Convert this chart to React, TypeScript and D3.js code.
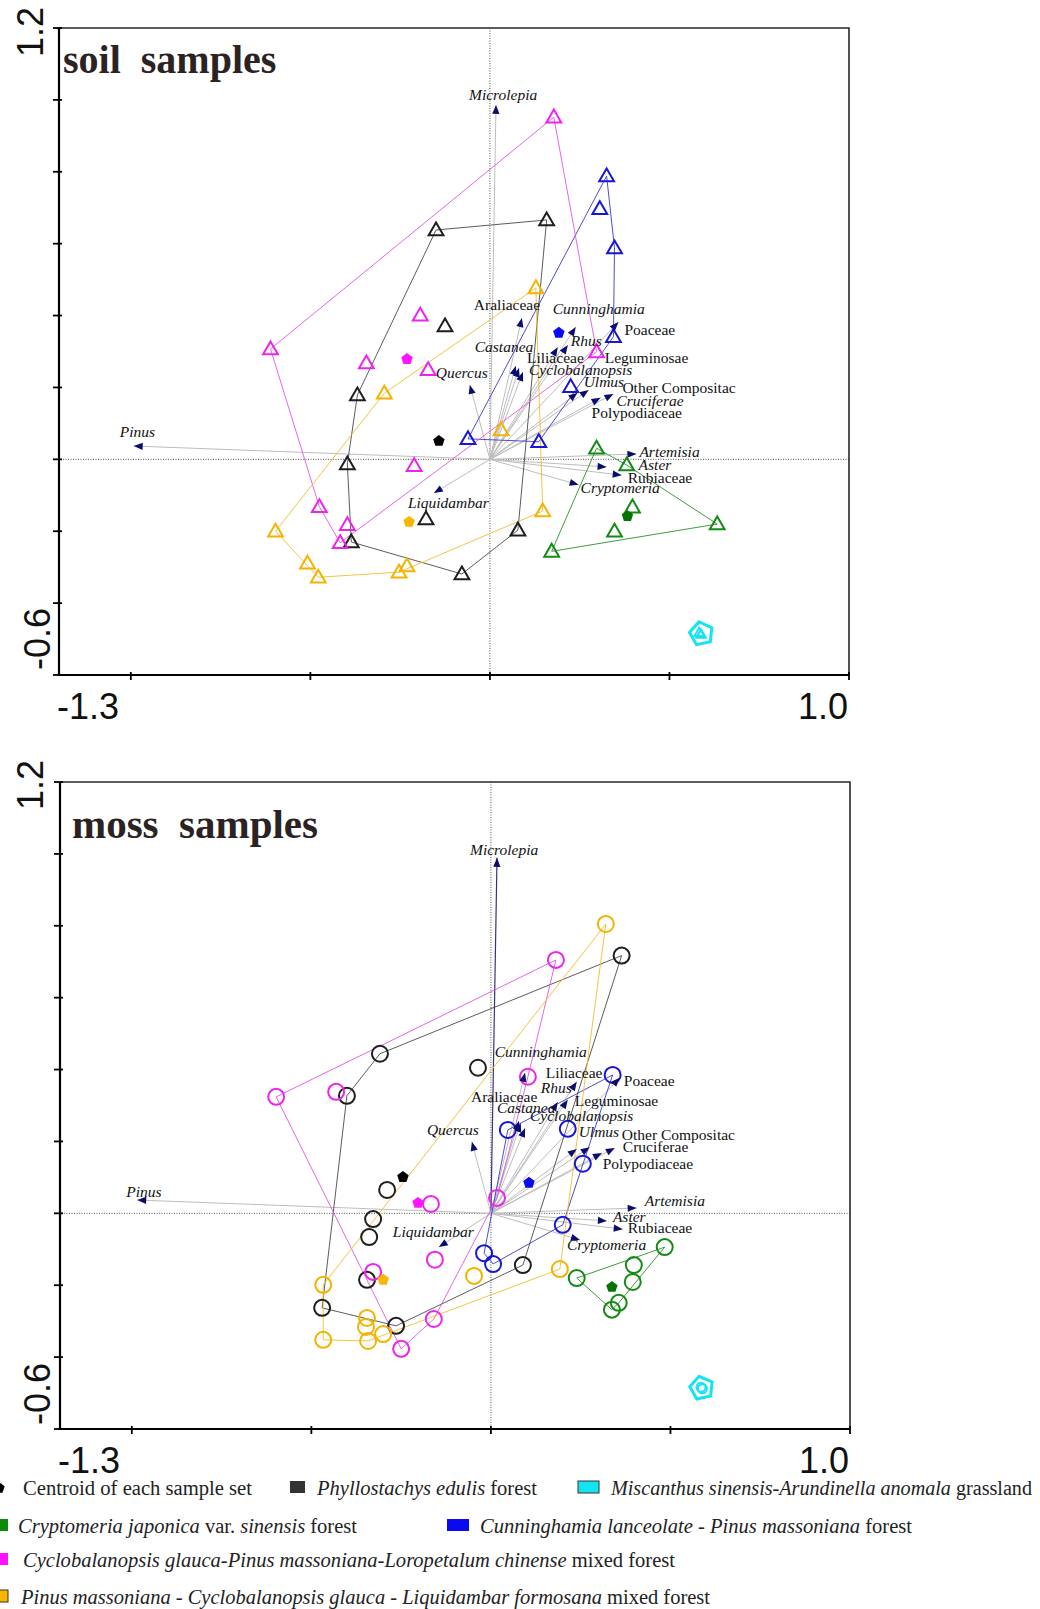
import { useEffect, useRef } from 'react';
import * as d3 from 'd3';

type Pt = [number, number];

// vegetation types, same order everywhere below
const groupColors = ['#1e1e1e', '#138a13', '#1717d4', '#ec24ec', '#f3b300', '#14e4f0'];
const hullColors = ['#4a4a4a', '#2a902a', '#3a3acc', '#e452e4', '#f2bc30', '#14e4f0'];
const centroidColors = ['#000000', '#067306', '#0b0bf2', '#ff14ff', '#f7b600', '#14e4f0'];

// soil samples [axis 1, axis 2]
const soilPhyllostachys: Pt[] = [
  [-0.150, 0.638], [0.158, 0.666], [-0.125, 0.371], [-0.369, 0.179], [-0.397, -0.013],
  [-0.178, -0.166], [-0.386, -0.230], [0.078, -0.197], [-0.078, -0.319],
];
const soilCryptomeria: Pt[] = [
  [0.297, 0.031], [0.381, -0.016], [0.397, -0.133], [0.347, -0.200], [0.633, -0.180], [0.172, -0.256],
];
const soilCunninghamia: Pt[] = [
  [0.325, 0.788], [0.306, 0.697], [0.347, 0.588], [0.344, 0.341], [0.225, 0.202], [-0.061, 0.057], [0.136, 0.049],
];
const soilCyclobalanopsis: Pt[] = [
  [-0.611, 0.307], [0.178, 0.952], [-0.194, 0.401], [-0.344, 0.268], [-0.172, 0.249],
  [-0.211, -0.018], [-0.475, -0.132], [-0.397, -0.182], [-0.417, -0.232], [0.297, 0.299],
];
const soilPinusMix: Pt[] = [
  [-0.294, 0.184], [0.128, 0.477], [0.031, 0.082], [-0.597, -0.200], [-0.508, -0.289],
  [-0.478, -0.328], [-0.253, -0.314], [-0.231, -0.297], [0.147, -0.144],
];
const soilMiscanthus: Pt[] = [[0.583, -0.481], [0.588, -0.486]];
const soilCentroids: Pt[] = [
  [-0.142, 0.051], [0.383, -0.158], [0.192, 0.352], [-0.231, 0.279], [-0.225, -0.174], [0.589, -0.485],
];

// moss samples [axis 1, axis 2]
const mossPhyllostachys: Pt[] = [
  [-0.309, 0.444], [-0.401, 0.327], [-0.036, 0.405], [0.364, 0.717], [-0.289, 0.065], [-0.328, -0.016],
  [-0.339, -0.066], [0.089, -0.144], [-0.345, -0.185], [-0.470, -0.263], [-0.264, -0.313],
];
const mossCryptomeria: Pt[] = [
  [0.484, -0.094], [0.398, -0.144], [0.239, -0.180], [0.395, -0.191], [0.356, -0.249], [0.337, -0.268],
];
const mossCunninghamia: Pt[] = [
  [0.047, 0.232], [0.339, 0.385], [0.214, 0.235], [0.256, 0.138], [0.200, -0.032], [-0.019, -0.111], [0.006, -0.141],
];
const mossCyclobalanopsis: Pt[] = [
  [-0.598, 0.324], [-0.431, 0.338], [0.181, 0.705], [0.103, 0.380], [-0.167, 0.026],
  [0.017, 0.043], [-0.156, -0.129], [-0.328, -0.163], [-0.159, -0.294], [-0.250, -0.377],
];
const mossPinusMix: Pt[] = [
  [0.320, 0.805], [-0.047, -0.174], [0.192, -0.155], [-0.467, -0.199], [-0.345, -0.291],
  [-0.348, -0.316], [-0.300, -0.336], [-0.467, -0.352], [-0.342, -0.355],
];
const mossMiscanthus: Pt[] = [[0.585, -0.484], [0.589, -0.488]];
const mossCentroids: Pt[] = [
  [-0.245, 0.101], [0.337, -0.205], [0.106, 0.085], [-0.203, 0.029], [-0.300, -0.185], [0.587, -0.486],
];

// pollen taxa
const taxa = [
  'Microlepia', 'Pinus', 'Quercus', 'Liquidambar', 'Araliaceae', 'Cunninghamia', 'Poaceae', 'Rhus',
  'Leguminosae', 'Castanea', 'Liliaceae', 'Cyclobalanopsis', 'Ulmus', 'Polypodiaceae', 'Other Compositac',
  'Cruciferae', 'Artemisia', 'Aster', 'Rubiaceae', 'Cryptomeria',
];
const taxaItalic = [
  true, true, true, true, false, true, false, true,
  false, true, false, true, true, false, false,
  true, true, true, false, true,
];
const soilTaxaScores: Pt[] = [
  [0.017, 0.986], [-0.992, 0.037], [-0.056, 0.207], [-0.156, -0.094], [0.089, 0.393], [0.239, 0.368],
  [0.358, 0.382], [0.217, 0.318], [0.189, 0.312], [0.072, 0.260], [0.081, 0.254], [0.092, 0.243],
  [0.275, 0.193], [0.244, 0.185], [0.344, 0.182], [0.308, 0.171], [0.408, 0.015], [0.325, -0.021],
  [0.367, -0.044], [0.247, -0.071],
];
const mossTaxaScores: Pt[] = [
  [0.017, 0.989], [-0.985, 0.037], [-0.053, 0.199], [-0.145, -0.094], [0.095, 0.391], [0.239, 0.366],
  [0.359, 0.377], [0.214, 0.316], [0.186, 0.310], [0.078, 0.257], [0.083, 0.251], [0.095, 0.237],
  [0.275, 0.184], [0.239, 0.179], [0.345, 0.182], [0.309, 0.168], [0.406, 0.015], [0.323, -0.021],
  [0.367, -0.044], [0.248, -0.074],
];

// label nudges (px, from arrow tip to text start/baseline)
const soilLabelNudge: Pt[] = [
  [-27, -5], [-14, -9], [-34, -7], [-26, 15], [-48, -8], [-23, -13], [6, 13], [3, 1], [47, 16], [-41, -14],
  [8, -5], [6, 3], [-5, -3], [14, 25], [9, -1], [16, 8], [3, 3], [32, 3], [6, 8], [2, 8],
];
const mossLabelNudge: Pt[] = [
  [-27, -3], [-11, -3], [-45, -7], [-46, -10], [-54, 29], [-82, -25], [4, 8], [-27, -7], [17, 4], [-22, -8],
  [25, -45], [5, -7], [-11, -10], [26, 20], [7, -8], [21, -1], [8, -2], [6, 1], [5, 4], [-13, 10],
];

const xEndLabels = ['-1.3', '1.0'];
const yEndLabels = ['1.2', '-0.6'];

const legendRowsY = [1495, 1533, 1567, 1604];

const PW = 790;
const PH = 647;

const pentagon = (cx: number, cy: number, r: number, rot = 0) =>
  d3.line()(
    d3.range(5).map((k) => {
      const a = ((-90 + rot + 72 * k) * Math.PI) / 180;
      return [cx + r * Math.cos(a), cy + r * Math.sin(a)] as [number, number];
    })
  ) + 'Z';

const App = () => {
  const ref = useRef<SVGSVGElement>(null);

  useEffect(() => {
    const svg = d3.select(ref.current);
    svg.selectAll('*').remove();

    const panels = [
      {
        title: 'soil  samples', left: 59, top: 28, titleX: 4, titleY: 45, titleSize: 40,
        groups: [soilPhyllostachys, soilCryptomeria, soilCunninghamia, soilCyclobalanopsis, soilPinusMix, soilMiscanthus],
        centroids: soilCentroids, scores: soilTaxaScores, nudge: soilLabelNudge,
        marker: 'triangle', upright: [] as string[], darkLines: [] as string[],
        yLab: [[-16, 29], [-9, 642]],
      },
      {
        title: 'moss  samples', left: 60, top: 782, titleX: 12, titleY: 56, titleSize: 41,
        groups: [mossPhyllostachys, mossCryptomeria, mossCunninghamia, mossCyclobalanopsis, mossPinusMix, mossMiscanthus],
        centroids: mossCentroids, scores: mossTaxaScores, nudge: mossLabelNudge,
        marker: 'circle', upright: ['Cruciferae'], darkLines: ['Microlepia'],
        yLab: [[-17, 28], [-10, 643]],
      },
    ];

    panels.forEach((p) => {
      const g = svg.append('g').attr('transform', `translate(${p.left},${p.top})`);
      const x = d3.scaleLinear().domain([-1.2, 1.0]).range([0, PW]);
      const y = d3.scaleLinear().domain([-0.6, 1.2]).range([PH, 0]);
      const ox = x(0);
      const oy = y(0);

      // dotted zero lines
      g.append('line').attr('x1', ox).attr('x2', ox).attr('y1', 0).attr('y2', PH)
        .attr('stroke', '#555').attr('stroke-width', 1).attr('stroke-dasharray', '1,1.5');
      g.append('line').attr('x1', -6).attr('x2', PW).attr('y1', oy).attr('y2', oy)
        .attr('stroke', '#555').attr('stroke-width', 1).attr('stroke-dasharray', '1,1.5');

      // arrow shafts
      g.selectAll('line.shaft').data(p.scores).enter().append('line')
        .attr('class', 'shaft')
        .attr('x1', ox).attr('y1', oy)
        .attr('x2', (d) => x(d[0])).attr('y2', (d) => y(d[1]))
        .attr('stroke', (d, i) => (p.darkLines.includes(taxa[i]) ? '#34347a' : '#bdbdbd'))
        .attr('stroke-width', (d, i) => (p.darkLines.includes(taxa[i]) ? 1.2 : 1));

      // convex hull of each sample set
      p.groups.forEach((pts, gi) => {
        if (pts.length < 3) return;
        const hull = d3.polygonHull(pts.map((d) => [x(d[0]), y(d[1])] as [number, number]));
        if (!hull) return;
        g.append('path').attr('d', d3.line()(hull) + 'Z')
          .attr('fill', 'none').attr('stroke', hullColors[gi]).attr('stroke-width', 0.9);
      });

      // samples
      p.groups.forEach((pts, gi) => {
        const small = gi === 5;
        pts.forEach((d) => {
          const cx = x(d[0]);
          const cy = y(d[1]);
          if (p.marker === 'triangle') {
            g.append('path')
              .attr('d', d3.symbol().type(d3.symbolTriangle).size(small ? 40 : 95)())
              .attr('transform', `translate(${cx},${cy + 1})`)
              .attr('fill', 'none').attr('stroke', groupColors[gi]).attr('stroke-width', 2);
          } else {
            g.append('circle').attr('cx', cx).attr('cy', cy).attr('r', small ? 4.5 : 8)
              .attr('fill', 'none').attr('stroke', groupColors[gi]).attr('stroke-width', 2);
          }
        });
      });

      // centroids
      p.centroids.forEach((d, gi) => {
        if (gi === 5) {
          g.append('path').attr('d', pentagon(x(d[0]), y(d[1]), 12, -12))
            .attr('fill', 'none').attr('stroke', centroidColors[gi]).attr('stroke-width', 3);
        } else {
          g.append('path').attr('d', pentagon(x(d[0]), y(d[1]), 6))
            .attr('fill', centroidColors[gi]);
        }
      });

      // arrow heads
      g.selectAll('path.head').data(p.scores).enter().append('path')
        .attr('class', 'head')
        .attr('d', (d) => {
          const tx = x(d[0]);
          const ty = y(d[1]);
          const a = Math.atan2(ty - oy, tx - ox);
          const L = 9;
          const w = 3.6;
          const bx = tx - L * Math.cos(a);
          const by = ty - L * Math.sin(a);
          return `M${tx},${ty}L${bx - w * Math.sin(a)},${by + w * Math.cos(a)}L${bx + w * Math.sin(a)},${by - w * Math.cos(a)}Z`;
        })
        .attr('fill', '#0c0c6e');

      // taxon labels
      g.selectAll('text.taxon').data(p.scores).enter().append('text')
        .attr('class', 'taxon')
        .attr('x', (d, i) => x(d[0]) + p.nudge[i][0])
        .attr('y', (d, i) => y(d[1]) + p.nudge[i][1])
        .attr('font-family', '"Liberation Serif", "Times New Roman", serif')
        .attr('font-size', 15.5)
        .attr('font-style', (d, i) => (taxaItalic[i] && !p.upright.includes(taxa[i]) ? 'italic' : 'normal'))
        .attr('fill', '#111')
        .text((d, i) => taxa[i]);

      // frame
      g.append('path').attr('d', `M0,0H${PW}V${PH}`).attr('fill', 'none')
        .attr('stroke', '#2a2a2a').attr('stroke-width', 1.6);
      g.append('path').attr('d', `M0,0V${PH}H${PW}`).attr('fill', 'none')
        .attr('stroke', '#000').attr('stroke-width', 2.2);

      // ticks
      d3.ticks(-0.6, 1.2, 9).forEach((t) => {
        g.append('line').attr('x1', -6).attr('x2', 3).attr('y1', y(t)).attr('y2', y(t))
          .attr('stroke', '#000').attr('stroke-width', 1.8);
      });
      [-1, -0.5, 0, 0.5, 1].forEach((t) => {
        g.append('line').attr('x1', x(t)).attr('x2', x(t)).attr('y1', PH - 3).attr('y2', PH + 5)
          .attr('stroke', '#000').attr('stroke-width', 1.8);
      });

      // axis end labels
      const axFont = '"Liberation Sans", Arial, sans-serif';
      g.append('text').attr('x', -2).attr('y', PH + 44).attr('font-family', axFont).attr('font-size', 36)
        .attr('fill', '#111').text(xEndLabels[0]);
      g.append('text').attr('x', PW - 1).attr('y', PH + 44).attr('text-anchor', 'end').attr('font-family', axFont)
        .attr('font-size', 36).attr('fill', '#111').text(xEndLabels[1]);
      yEndLabels.forEach((lab, i) => {
        const [lx, ly] = p.yLab[i];
        g.append('text').attr('transform', `translate(${lx},${ly}) rotate(-90)`)
          .attr('font-family', axFont).attr('font-size', 36).attr('fill', '#111').text(lab);
      });

      // title
      g.append('text').attr('x', p.titleX).attr('y', p.titleY)
        .attr('font-family', '"Liberation Serif", "Times New Roman", serif')
        .attr('font-weight', 'bold').attr('font-size', p.titleSize)
        .attr('fill', '#2b2323').style('white-space', 'pre').text(p.title);
    });

    // legend
    const legendItems = [
      { row: 0, swatch: 'centroid', color: '#000', sx: -1, sw: 0, tx: 23, len: 229, parts: [['Centroid of each sample set', false]] },
      { row: 0, swatch: 'square', color: '#333', sx: 290, sw: 15, tx: 317, len: 220, parts: [['Phyllostachys edulis', true], [' forest', false]] },
      { row: 0, swatch: 'square', color: groupColors[5], outline: true, sx: 578, sw: 21, tx: 611, len: 421, parts: [['Miscanthus sinensis-Arundinella anomala', true], [' grassland', false]] },
      { row: 1, swatch: 'square', color: '#0c8a0c', sx: -8, sw: 16, tx: 18, len: 339, parts: [['Cryptomeria japonica', true], [' var. ', false], ['sinensis', true], [' forest', false]] },
      { row: 1, swatch: 'square', color: '#0a0af0', sx: 447, sw: 22, tx: 480, len: 432, parts: [['Cunninghamia lanceolate - Pinus massoniana', true], [' forest', false]] },
      { row: 2, swatch: 'square', color: '#ff10ff', sx: -8, sw: 16, tx: 23, len: 652, parts: [['Cyclobalanopsis glauca-Pinus massoniana-Loropetalum chinense', true], [' mixed forest', false]] },
      { row: 3, swatch: 'square', color: '#f7b600', outline: true, sx: -8, sw: 16, tx: 21, len: 689, parts: [['Pinus massoniana - Cyclobalanopsis glauca - Liquidambar formosana', true], [' mixed forest', false]] },
    ];
    const leg = svg.append('g');
    legendItems.forEach((it) => {
      const by = legendRowsY[it.row];
      if (it.swatch === 'centroid') {
        leg.append('path').attr('d', pentagon(it.sx, by - 7, 6)).attr('fill', it.color);
      } else {
        leg.append('rect').attr('x', it.sx).attr('y', by - 14).attr('width', it.sw).attr('height', 12)
          .attr('fill', it.color)
          .attr('stroke', (it as any).outline ? '#333' : 'none').attr('stroke-width', 1);
      }
      const t = leg.append('text').attr('x', it.tx).attr('y', by)
        .attr('font-family', '"Liberation Serif", "Times New Roman", serif')
        .attr('font-size', 20).attr('fill', '#222')
        .attr('textLength', it.len).attr('lengthAdjust', 'spacingAndGlyphs')
        .style('white-space', 'pre');
      it.parts.forEach(([s, ital]) => {
        t.append('tspan').attr('font-style', ital ? 'italic' : 'normal').text(s as string);
      });
    });
  }, []);

  return (
    <svg
      ref={ref}
      width={1040}
      height={1609}
      style={{ position: 'absolute', left: 0, top: 0, background: '#fff' }}
    />
  );
};

export default App;
